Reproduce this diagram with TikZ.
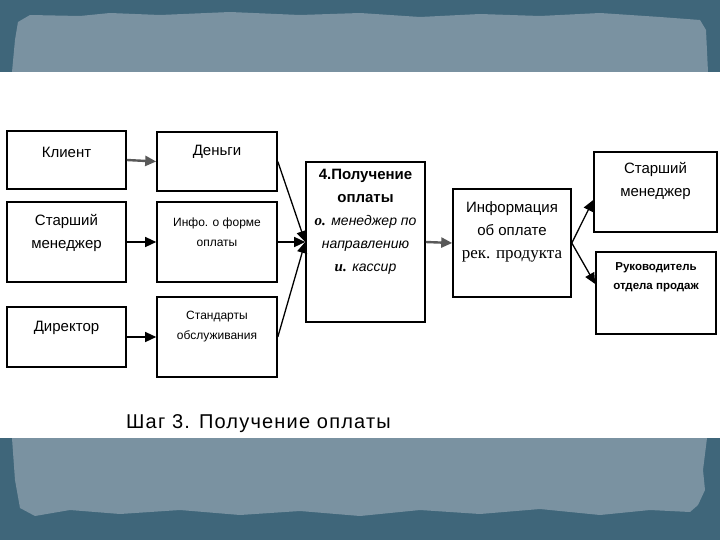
\documentclass[tikz,border=0pt]{standalone}
\usepackage{fontspec}
\setmainfont{Liberation Sans}
\newfontfamily\rmserif{Liberation Serif}
\newfontfamily\titlefont[LetterSpace=6]{Liberation Sans}
\usetikzlibrary{arrows.meta}
\definecolor{framedark}{HTML}{3F667A}
\definecolor{framelight}{HTML}{7A92A1}
\tikzstyle{box}=[rectangle,draw=black,line width=1.6pt,fill=white,inner sep=0pt]
\tikzstyle{txt}=[align=center,inner sep=0pt,font=\fontsize{15}{23}\selectfont]
\tikzstyle{smalltxt}=[align=center,inner sep=0pt,font=\fontsize{12}{20}\selectfont]
\tikzstyle{edge}=[draw,line width=1.3pt,-{Triangle[length=11pt,width=10pt]}]
\tikzstyle{greyedge}=[edge,draw=black!65,line width=2.4pt]

\begin{document}
\begin{tikzpicture}[x=1pt,y=-1pt]

  \useasboundingbox (0,0) rectangle (720,540);

%frame
  \fill[framedark] (0,0) rectangle (720,540);
  \fill[framelight] (15,40) -- (18,22) -- (30,15) -- (80,16) -- (110,13) -- (160,15) -- (230,12)
     -- (300,15) -- (360,13) -- (420,17) -- (480,14) -- (540,16) -- (600,13) -- (660,17) -- (700,20)
     -- (706,30) -- (708,72) -- (707,438) -- (703,470) -- (705,490) -- (698,505) -- (690,512)
     -- (650,510) -- (600,515) -- (540,509) -- (480,514) -- (420,510) -- (360,516) -- (300,511)
     -- (240,515) -- (180,510) -- (120,514) -- (70,510) -- (35,516) -- (20,508) -- (15,480)
     -- (12,438) -- (12,72) -- cycle;
  \fill[white] (0,72) rectangle (720,438);

%boxes
  \foreach \x/\y/\w/\h/\name in {66.5/160/119/58/klient, 66.5/242/119/80/starshij, 66.5/337/119/60/direktor,
                                 217/161.5/120/59/dengi, 217/242/120/80/info, 217/337/120/80/standart}
          \node[box,minimum width=\w pt,minimum height=\h pt] (\name) at (\x,\y) {};

  \foreach \x/\y/\w/\h/\name in {365.5/242/119/160/poluch, 512/243/118/108/inform,
                                 655.5/192/123/80/starshij2, 656/293/120/82/ruk}
          \node[box,minimum width=\w pt,minimum height=\h pt] (\name) at (\x,\y) {};

%texts
  \node[txt] (klient-t) at (66.5,152) {Клиент};
  \node[txt] (starshij-t) at (66.5,233) {Старший\\менеджер};
  \node[txt] (direktor-t) at (66.5,328) {Директор};
  \node[txt] (dengi-t) at (217,152) {Деньги};
  \node[smalltxt] (info-t) at (217,232) {Инфо. о форме\\оплаты};
  \node[smalltxt] (standart-t) at (217,327) {Стандарты\\обслуживания};
  \node[txt] (poluch-t) at (365.5,222) {\textbf{4.Получение}\\\textbf{оплаты}\\
     {\rmserif\bfseries\itshape о.} {\fontsize{14}{23}\selectfont\itshape менеджер по}\\
     {\fontsize{14}{23}\selectfont\itshape направлению}\\
     {\rmserif\bfseries\itshape и.} {\fontsize{14}{23}\selectfont\itshape кассир}};
  \node[txt] (inform-t) at (512,232) {Информация\\об оплате\\{\rmserif\fontsize{17}{23}\selectfont рек. продукта}};
  \node[txt] (starshij2-t) at (655.5,181) {Старший\\менеджер};
  \node[smalltxt,font=\fontsize{11.5}{19}\selectfont\bfseries] (ruk-t) at (656,277) {Руководитель\\отдела продаж};

  \node[inner sep=0pt,font=\titlefont\fontsize{20}{24}\selectfont] (title) at (258.5,424) {Шаг 3. Получение оплаты};

%arrows
  \foreach \source/\dest in {klient/dengi, poluch/inform}
         \path[greyedge] (\source.east) -- (\dest.west);

  \foreach \source/\dest in {starshij/info, direktor/standart, dengi/poluch, info/poluch, standart/poluch}
         \path[edge] (\source.east) -- (\dest.west);

  \path[edge] (inform.east) -- ([yshift=-8pt]starshij2.west);
  \path[edge] (inform.east) -- ([yshift=9pt]ruk.west);

\end{tikzpicture}
\end{document}
